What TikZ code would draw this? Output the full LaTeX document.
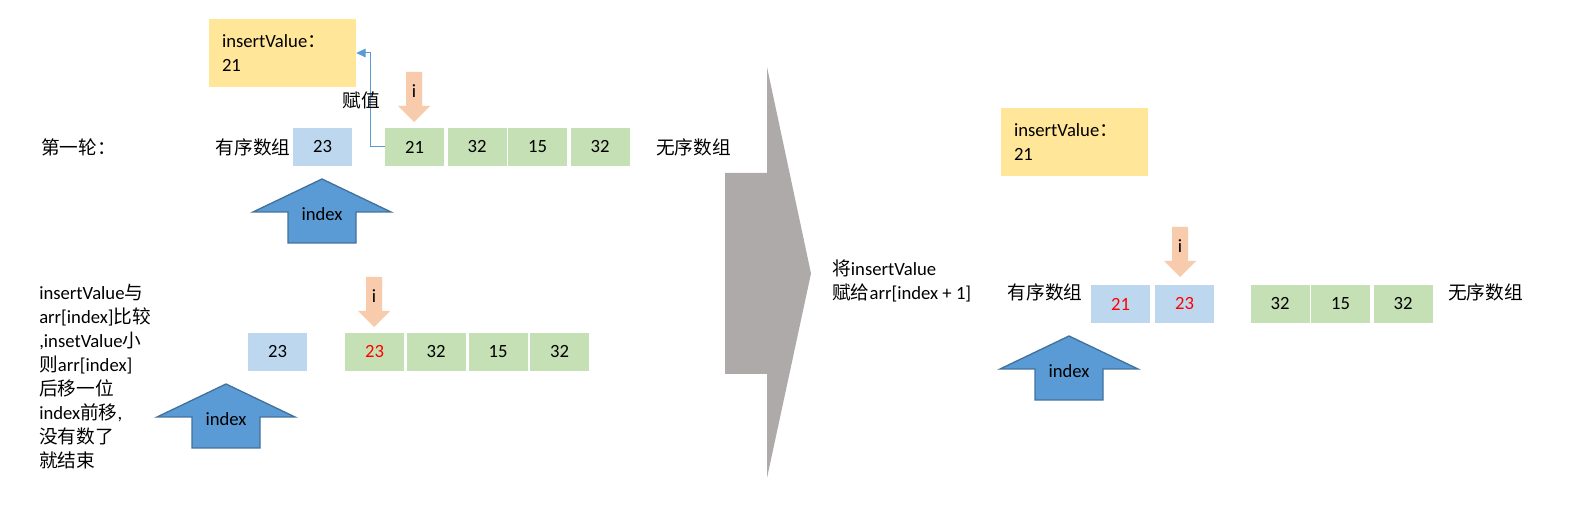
\documentclass[tikz,border=0pt]{standalone}
\usepackage{fontspec}
\setmainfont{Carlito}
\newfontfamily\cjk{Noto Sans CJK SC}
\newcommand{\zh}[1]{{\cjk #1}}
\usepackage{tikz}
\usetikzlibrary{arrows.meta, positioning}
\definecolor{cellblue}{HTML}{BDD7EE}
\definecolor{cellgreen}{HTML}{C5E0B4}
\definecolor{valyellow}{HTML}{FFE699}
\definecolor{idxblue}{HTML}{5B9BD5}
\definecolor{idxedge}{HTML}{41719C}
\definecolor{ipeach}{HTML}{F8CBAD}
\definecolor{passgray}{HTML}{AEAAAA}

\begin{document}
\begin{tikzpicture}[x=0.75pt, y=-0.75pt,
    every node/.style={font=\fontsize{14}{18}\selectfont, inner sep=0pt},
    bcell/.style={rectangle, fill=cellblue, minimum width=44.25pt, minimum height=28.5pt},
    gcell/.style={rectangle, fill=cellgreen, minimum width=44.25pt, minimum height=28.5pt},
    valbox/.style={rectangle, fill=valyellow, minimum height=51pt, inner xsep=9.75pt, text width=90.75pt, align=left},
    idxarrow/.style={fill=idxblue, draw=idxedge, line width=1pt},
    iarrow/.style={fill=ipeach},
    link/.style={draw=idxblue, line width=0.75pt, -{Triangle[length=7pt,width=6.5pt]}},
]
    \useasboundingbox (0,0) rectangle (1577,505);
    % Round 1
    \node[anchor=west] (round) at (41,147) {\zh{第一轮：}};
    \node (ordA) at (253,147) {\zh{有序数组}};
    \node[bcell] (ba1) at (322.5,147) {23};
    \foreach \x/\v [count=\k] in {414.5/21, 477/32, 537.5/15, 600/32} {
        \node[gcell] (ga\k) at (\x,147) {\v};
    }
    \node[anchor=west] (unordA) at (656,147) {\zh{无序数组}};
    \node[valbox] (valA) at (282.5,53) {insertValue\zh{：}\\21};
    \draw[link] (ga1.west) -- ++(-14,0) |- (valA.east);
    \node (assign) at (361.5,100) {\zh{赋值}};
    % Compare and shift
    \foreach \t [count=\k] in {insertValue\zh{与}, arr[index]\zh{比较}, {,insetValue\zh{小}},
        \zh{则}arr[index], \zh{后移一位}, {index\zh{前移},}, \zh{没有数了}, \zh{就结束}} {
        \node[anchor=base west] (note\k) at (39,276+24*\k) {\t};
    }
    \node[bcell] (bb1) at (277.5,352) {23};
    \foreach \x/\v [count=\k] in {374.5/\textcolor{red}{23}, 436/32, 498/15, 559.5/32} {
        \node[gcell] (gb\k) at (\x,352) {\v};
    }
    % Pass arrow
    \fill[passgray] (725,173) -- (767,173) -- (767,67) -- (811,273.5) -- (767,478)
        -- (767,374) -- (725,374) -- cycle;
    \node[anchor=west] (moveA) at (832,268) {\zh{将}insertValue};
    \node[anchor=west] (moveB) at (832,293) {\zh{赋给}arr[index + 1]};
    % After insert
    \node[valbox] (valC) at (1074.5,142.5) {insertValue\zh{：}\\21};
    \node (ordC) at (1045,292) {\zh{有序数组}};
    \node[bcell] (bc1) at (1120.5,304) {\textcolor{red}{21}};
    \node[bcell] (bc2) at (1184.5,304) {\textcolor{red}{23}};
    \foreach \x/\v [count=\k] in {1280/32, 1340.5/15, 1403/32} {
        \node[gcell] (gc\k) at (\x,304) {\v};
    }
    \node[anchor=west] (unordC) at (1448,292) {\zh{无序数组}};
    % index arrows
    \foreach \n/\x/\y in {a/322/179, b/226/384, c/1069/336} {
        \draw[idxarrow] (\x,\y) -- ++(69,33) -- ++(-35,0) -- ++(0,31) -- ++(-68,0)
            -- ++(0,-31) -- ++(-35,0) -- cycle;
        \node (idx\n) at (\x,\y+35) {index};
    }
    % i arrows
    \foreach \n/\x/\y in {a/414/72, b/374/277, c/1180/227} {
        \fill[iarrow] (\x-8,\y) -- ++(16,0) -- ++(0,34) -- ++(8,0) -- ++(-16,16)
            -- ++(-16,-16) -- ++(8,0) -- cycle;
        \node (i\n) at (\x,\y+19) {i};
    }
\end{tikzpicture}
\end{document}
